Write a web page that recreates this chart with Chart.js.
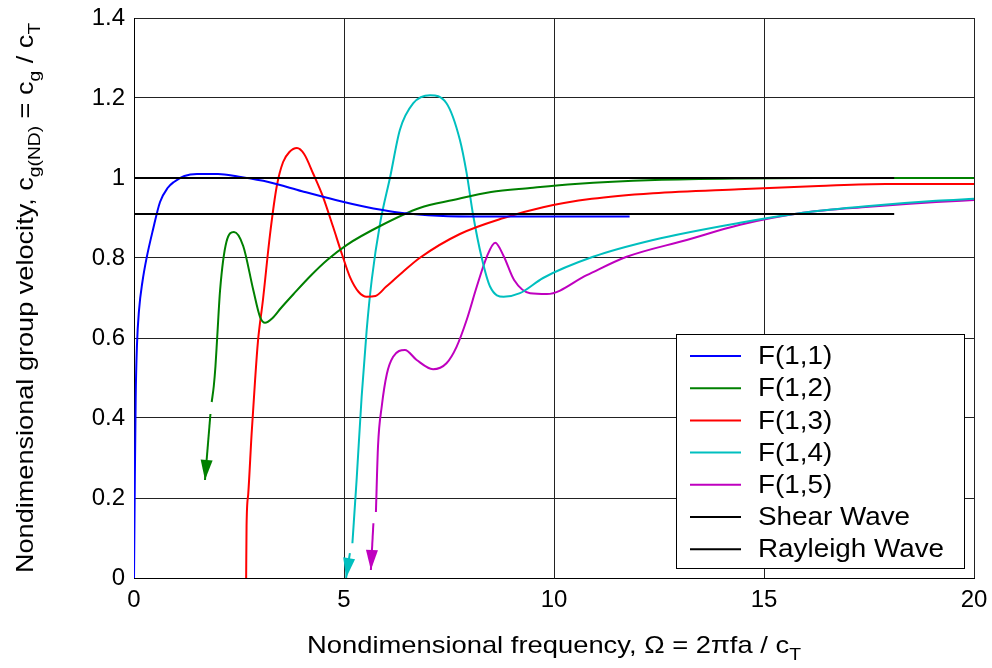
<!DOCTYPE html>
<html>
<head>
<meta charset="utf-8">
<script src="https://cdn.jsdelivr.net/npm/chart.js@4.4.0/dist/chart.umd.min.js"></script>
<style>
  html, body { margin: 0; padding: 0; background: #fff; }
  #wrap { width: 992px; height: 668px; }
</style>
</head>
<body>
<div id="wrap"><canvas id="dispersionChart" width="992" height="668"></canvas></div>
<script>
// values
const xTicks = [0, 5, 10, 15, 20];
const yTicks = [0, 0.2, 0.4, 0.6, 0.8, 1, 1.2, 1.4];

const f11x = [0, 0.02, 0.04, 0.07, 0.12, 0.2, 0.3, 0.45, 0.62, 0.8, 0.95, 1.2, 1.5, 2.0, 2.5, 3.2, 4.0, 4.8, 5.5, 6.2, 7.0, 8.0, 9.5, 11.8];
const f11y = [0, 0.25, 0.45, 0.58, 0.67, 0.74, 0.8, 0.87, 0.94, 0.975, 0.99, 1.005, 1.01, 1.01, 1.003, 0.99, 0.967, 0.945, 0.928, 0.915, 0.907, 0.904, 0.904, 0.904];

const f12x = [1.85, 1.9, 1.94, 1.98, 2.05, 2.2, 2.38, 2.6, 2.84, 3.0, 3.12, 3.3, 3.5, 3.8, 4.2, 4.6, 5.07, 5.86, 6.8, 7.6, 8.5, 9.43, 10.5, 12.4, 14.4, 16.5, 18.5, 20];
const f12y = [0.44, 0.48, 0.53, 0.6, 0.72, 0.84, 0.865, 0.83, 0.72, 0.653, 0.638, 0.65, 0.675, 0.71, 0.755, 0.795, 0.833, 0.88, 0.925, 0.945, 0.965, 0.975, 0.985, 0.995, 0.999, 1.0, 1.0, 1.0];

const f13x = [2.67, 2.68, 2.72, 2.8, 2.88, 2.95, 3.07, 3.24, 3.4, 3.55, 3.7, 3.88, 4.05, 4.27, 4.5, 4.74, 4.95, 5.14, 5.35, 5.54, 5.75, 6.0, 6.4, 6.8, 7.76, 8.8, 9.74, 10.9, 12.36, 14.4, 16.3, 17.9, 20];
const f13y = [0, 0.13, 0.21, 0.36, 0.49, 0.59, 0.695, 0.86, 0.98, 1.04, 1.065, 1.075, 1.06, 1.01, 0.953, 0.878, 0.81, 0.753, 0.715, 0.703, 0.705, 0.728, 0.765, 0.8, 0.86, 0.9, 0.927, 0.948, 0.962, 0.972, 0.98, 0.985, 0.985];

const f14x = [5.2, 5.3, 5.42, 5.54, 5.66, 5.86, 6.1, 6.33, 6.65, 7.05, 7.44, 7.76, 7.92, 8.07, 8.28, 8.48, 8.8, 9.19, 9.74, 10.93, 12.36, 14.43, 15.93, 17.5, 19.1, 20];
const f14y = [0.087, 0.245, 0.453, 0.62, 0.745, 0.887, 1.003, 1.12, 1.187, 1.207, 1.187, 1.095, 1.012, 0.91, 0.8, 0.728, 0.703, 0.712, 0.75, 0.803, 0.845, 0.888, 0.913, 0.93, 0.943, 0.948];

const f15x = [5.76, 5.81, 5.9, 6.02, 6.17, 6.45, 6.73, 7.12, 7.44, 7.68, 7.92, 8.16, 8.4, 8.6, 8.8, 9.05, 9.43, 9.83, 10.78, 11.73, 13.16, 14.43, 15.93, 17.5, 19.1, 20];
const f15y = [0.165, 0.33, 0.43, 0.51, 0.553, 0.57, 0.545, 0.522, 0.537, 0.578, 0.645, 0.728, 0.803, 0.838, 0.805, 0.745, 0.712, 0.71, 0.757, 0.803, 0.845, 0.883, 0.913, 0.928, 0.94, 0.945];

const shearX = [0, 18.1];
const shearY = [1, 1];
const rayleighX = [0, 18.1];
const rayleighY = [0.91, 0.91];

// short arrow stems below the mode cut-offs
const arrow2x = [1.82, 1.69];
const arrow2y = [0.41, 0.245];
const arrow4x = [5.14, 5.05];
const arrow4y = [0.062, 0.0];
const arrow5x = [5.7, 5.64];
const arrow5y = [0.137, 0.02];

const FONT = '"Liberation Sans", Arial, sans-serif';

function pts(xs, ys) {
    return xs.map((x, i) => ({ x: x, y: ys[i] }));
}

function curve(label, xs, ys, color) {
    return {
        label: label,
        data: pts(xs, ys),
        borderColor: color,
        backgroundColor: color,
        borderWidth: 2,
        showLine: true,
        pointRadius: 0,
        cubicInterpolationMode: 'monotone'
    };
}

function arrow(xs, ys, color) {
    return {
        label: '',
        data: pts(xs, ys),
        borderColor: color,
        backgroundColor: color,
        borderWidth: 2,
        showLine: true,
        pointRadius: 0,
        arrow: true
    };
}

const datasets = [
    curve('Shear Wave', shearX, shearY, '#000000'),
    curve('Rayleigh Wave', rayleighX, rayleighY, '#000000'),
    curve('F(1,1)', f11x, f11y, '#0000ff'),
    curve('F(1,2)', f12x, f12y, '#008000'),
    curve('F(1,3)', f13x, f13y, '#ff0000'),
    curve('F(1,4)', f14x, f14y, '#00bfbf'),
    curve('F(1,5)', f15x, f15y, '#bf00bf'),
    arrow(arrow2x, arrow2y, '#008000'),
    arrow(arrow4x, arrow4y, '#00bfbf'),
    arrow(arrow5x, arrow5y, '#bf00bf')
];
const legendOrder = ['F(1,1)', 'F(1,2)', 'F(1,3)', 'F(1,4)', 'F(1,5)', 'Shear Wave', 'Rayleigh Wave'];

// text with subscripts: parts = [[text, isSub], ...], stretched by sx like the original figure
function richWidth(ctx, parts, size, subSize) {
    let w = 0;
    parts.forEach(p => {
        ctx.font = (p[1] ? subSize : size) + 'px ' + FONT;
        w += ctx.measureText(p[0]).width;
    });
    return w;
}

function drawRich(ctx, parts, cx, baseY, size, subSize, sx) {
    const w = richWidth(ctx, parts, size, subSize);
    ctx.save();
    ctx.translate(cx - w * sx / 2, baseY);
    ctx.scale(sx, 1);
    ctx.textAlign = 'left';
    ctx.textBaseline = 'alphabetic';
    let x = 0;
    parts.forEach(p => {
        ctx.font = (p[1] ? subSize : size) + 'px ' + FONT;
        ctx.fillText(p[0], x, p[1] ? 7 : 0);
        x += ctx.measureText(p[0]).width;
    });
    ctx.restore();
}

const decorations = {
    id: 'decorations',
    afterDatasetsDraw(chart) {
        const ctx = chart.ctx;
        const area = chart.chartArea;
        // arrow heads
        chart.data.datasets.forEach((ds, i) => {
            if (!ds.arrow) return;
            const meta = chart.getDatasetMeta(i);
            const a = meta.data[meta.data.length - 2];
            const b = meta.data[meta.data.length - 1];
            const ang = Math.atan2(b.y - a.y, b.x - a.x);
            const len = 20, half = 6;
            ctx.save();
            ctx.translate(b.x, b.y);
            ctx.rotate(ang);
            ctx.fillStyle = ds.borderColor;
            ctx.beginPath();
            ctx.moveTo(0, 0);
            ctx.lineTo(-len, -half);
            ctx.lineTo(-len, half);
            ctx.closePath();
            ctx.fill();
            ctx.restore();
        });

        // legend box, bottom right inside the axes
        const boxW = 288, boxH = 234;
        const bx = area.right - 10 - boxW;
        const by = area.bottom - 10 - boxH;
        ctx.save();
        ctx.fillStyle = '#fff';
        ctx.fillRect(bx, by, boxW, boxH);
        ctx.strokeStyle = '#000';
        ctx.lineWidth = 1;
        ctx.strokeRect(bx + 0.5, by + 0.5, boxW, boxH);
        legendOrder.forEach((name, k) => {
            const ds = chart.data.datasets.find(d => d.label === name);
            const ry = by + 22 + k * 32.2;
            ctx.strokeStyle = ds.borderColor;
            ctx.lineWidth = 2;
            ctx.beginPath();
            ctx.moveTo(bx + 14, ry);
            ctx.lineTo(bx + 65, ry);
            ctx.stroke();
            ctx.save();
            ctx.translate(bx + 82, ry + 1);
            ctx.scale(1.07, 1);
            ctx.font = '26px ' + FONT;
            ctx.textBaseline = 'middle';
            ctx.textAlign = 'left';
            ctx.fillStyle = '#000';
            ctx.fillText(name, 0, 0);
            ctx.restore();
        });
        ctx.restore();
    },
    afterDraw(chart) {
        const ctx = chart.ctx;
        const area = chart.chartArea;
        const midX = (area.left + area.right) / 2;
        const midY = (area.top + area.bottom) / 2;
        ctx.save();
        ctx.fillStyle = '#000';
        drawRich(ctx, [['Nondimensional frequency, \u03A9 = 2\u03C0fa / c', false], ['T', true]],
            midX, 653, 24, 17, 1.14);
        ctx.translate(33, midY);
        ctx.rotate(-Math.PI / 2);
        drawRich(ctx, [['Nondimensional group velocity, c', false], ['g(ND)', true], [' = c', false],
            ['g', true], [' / c', false], ['T', true]], 0, 0, 24, 17, 1.13);
        ctx.restore();
    }
};

new Chart(document.getElementById('dispersionChart'), {
    type: 'scatter',
    data: { datasets: datasets },
    options: {
        responsive: false,
        animation: false,
        layout: { padding: { left: 0, right: 18, top: 18, bottom: 0 } },
        plugins: {
            legend: { display: false },
            tooltip: { enabled: false }
        },
        scales: {
            x: {
                type: 'linear',
                min: 0,
                max: 20,
                afterFit: s => { s.height = 90; s.paddingLeft = 0; s.paddingRight = 0; },
                afterBuildTicks: s => { s.ticks = xTicks.map(v => ({ value: v })); },
                ticks: {
                    color: '#000',
                    padding: 8,
                    font: { family: FONT, size: 24 },
                    maxRotation: 0
                },
                grid: { color: '#222', lineWidth: 1, drawTicks: false },
                border: { color: '#000', width: 1 }
            },
            y: {
                min: 0,
                max: 1.4,
                afterFit: s => { s.width = 134; s.paddingTop = 0; s.paddingBottom = 0; },
                afterBuildTicks: s => { s.ticks = yTicks.map(v => ({ value: v })); },
                ticks: {
                    color: '#000',
                    padding: 9,
                    font: { family: FONT, size: 24 },
                    callback: v => String(+v.toFixed(1))
                },
                grid: { color: '#222', lineWidth: 1, drawTicks: false },
                border: { color: '#000', width: 1 }
            }
        }
    },
    plugins: [decorations]
});
</script>
</body>
</html>
